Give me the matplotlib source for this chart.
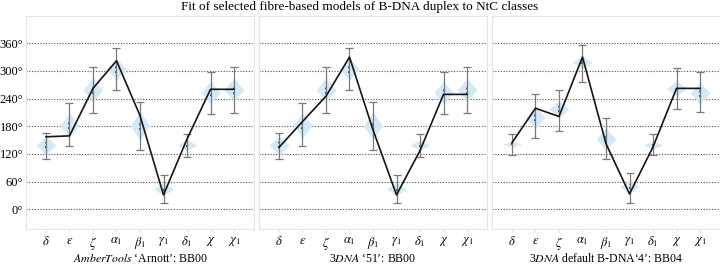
import numpy as np
import matplotlib
matplotlib.use("Agg")
from matplotlib import pyplot as plt

plt.rcParams['font.family'] = ['Liberation Serif', 'DejaVu Serif']
plt.rcParams['mathtext.fontset'] = 'stix'

torsions = [r'$\delta$', r'$\varepsilon$', r'$\zeta$', r'$\alpha_1$', r'$\beta_1$',
            r'$\gamma_1$', r'$\delta_1$', r'$\chi$', r'$\chi_1$']

# NtC class distributions (violin centre, half-height, error bar range)
bb00_centre = [139, 182, 259, 304, 181, 44, 139, 253, 259]
bb00_spread = [19, 25, 25, 22, 29, 14, 11, 23, 24]
bb00_low = [109, 137, 208, 258, 128, 14, 113, 207, 208]
bb00_high = [166, 230, 309, 349, 232, 74, 163, 298, 308]

bb04_centre = [141, 199, 217, 319, 152, 49, 139, 262, 252]
bb04_spread = [6, 22, 18, 13, 23, 13, 8, 16, 22]
bb04_low = [118, 154, 169, 275, 109, 14, 118, 218, 211]
bb04_high = [163, 249, 259, 356, 197, 78, 163, 307, 298]

# fibre model torsions
arnott = [157, 159, 262, 322, 203, 31, 152, 260, 260]
dna51 = [134, 190, 245, 330, 172, 31, 127, 249, 249]
dna_default = [144, 219, 201, 330, 142, 33, 135, 262, 262]

panels = [
    (arnott, 'bb00', r'$\mathit{AmberTools}$ ‘Arnott’: BB00'),
    (dna51, 'bb00', r'3$\mathit{DNA}$ ‘51’: BB00'),
    (dna_default, 'bb04', r'3$\mathit{DNA}$ default B-DNA‘4’: BB04'),
]
classes = {
    'bb00': (bb00_centre, bb00_spread, bb00_low, bb00_high),
    'bb04': (bb04_centre, bb04_spread, bb04_low, bb04_high),
}

fig = plt.figure(figsize=(7.2, 2.64), dpi=100)
fig.suptitle("Fit of selected fibre-based models of B-DNA duplex to NtC classes",
             fontsize=9.5, y=0.995)

lefts = [26 / 720, 259 / 720, 492 / 720]
x = np.arange(len(torsions))
half_w = 0.42

for i, (model, cls, label) in enumerate(panels):
    ax = fig.add_axes([lefts[i], 1 - 229 / 264, 228 / 720, 213 / 264])
    centre, spread, low, high = classes[cls]

    for xi, c, h in zip(x, centre, spread):
        t = np.linspace(-1, 1, 81)
        prof = half_w * (1 - np.abs(t)) ** 1.1
        ax.fill_betweenx(c + t * h * 1.1, xi - prof, xi + prof, color='#d3e9f6',
                         lw=0, zorder=2)
        ax.plot([xi, xi], [c - 0.35 * h, c + 0.35 * h], color='#1b3553',
                lw=1.3, ls=(0, (1, 1.6)), zorder=3)

    mid = (np.array(low) + np.array(high)) / 2
    err = (np.array(high) - np.array(low)) / 2
    ax.errorbar(x, mid, yerr=err, fmt='none', ecolor='#7a7a7a', elinewidth=0.9,
                capsize=2.8, capthick=0.9, zorder=3)
    ax.plot(x, model, color='#151515', lw=1.2, zorder=4)

    ax.set_xlim(-0.85, 8.85)
    ax.set_ylim(-43, 419)
    ax.set_yticks(range(0, 361, 60))
    ax.set_xticks(x)
    ax.set_xticklabels(torsions, fontsize=9)
    ax.grid(axis='y', ls=(0, (1, 1.5)), color='#505050', lw=0.8)
    ax.set_axisbelow(True)
    for s in ax.spines.values():
        s.set_color('#e4e4e4')
    ax.tick_params(axis='x', length=2, color='#e4e4e4', pad=2)
    ax.tick_params(axis='y', length=0, pad=2)
    if i == 0:
        ax.set_yticklabels([f"{v}°" for v in range(0, 361, 60)], fontsize=9)
    else:
        ax.set_yticklabels([])
    ax.set_xlabel(label, fontsize=8.5, labelpad=0)

plt.savefig("out.png", dpi=100)
